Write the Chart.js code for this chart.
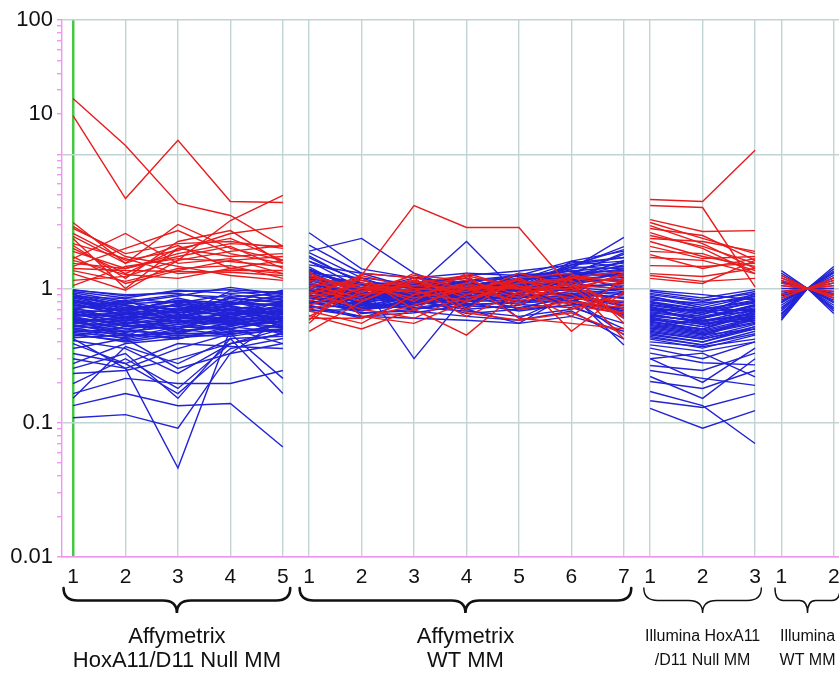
<!DOCTYPE html>
<html><head><meta charset="utf-8">
<script src="https://cdn.jsdelivr.net/npm/chart.js@4.4.0/dist/chart.umd.min.js"></script>
<style>html,body{margin:0;padding:0;background:#fff}#wrap{width:839px;height:676px;position:relative}</style>
</head><body><div id="wrap"><canvas id="c"></canvas></div>
<script>
// ---- categories / ticks ----
const tickLabels = ['1','2','3','4','5','1','2','3','4','5','6','7','1','2','3','1','2'];
const tickPositions = [0,1,2,3,4,4.5,5.5,6.5,7.5,8.5,9.5,10.5,11,12,13,13.5,14.5];
const groupNames = [['Affymetrix','HoxA11/D11 Null MM'],['Affymetrix','WT MM'],['Illumina HoxA11','/D11 Null MM'],['Illumina','WT MM']];
const groupX = [[0,1,2,3,4],[4.5,5.5,6.5,7.5,8.5,9.5,10.5],[11,12,13],[13.5,14,14.5]];
const yLabelValues = [0.01, 0.1, 1, 20, 100];
const yLabels = ['0.01','0.1','1','10','100'];

// ---- series values (fold change) ----
const affyNullRed = [
[26,11.6,4.3,3.5,2.06],[19.4,4.68,12.7,4.45,4.37],[1.15,1.23,1.62,3.21,4.93],[3.1,1.54,3.0,1.99,1.62],
[2.8,1.82,2.16,2.24,1.99],[2.57,1.62,1.92,2.57,2.9],[2.36,1.0,1.99,2.36,1.62],[2.09,1.19,2.24,2.7,1.54],
[1.89,1.41,1.73,2.06,1.41],[1.67,2.57,1.54,1.67,1.29],[1.41,1.36,1.34,1.32,1.25],[1.36,1.13,1.41,1.48,1.19],
[1.29,0.97,1.62,1.89,2.09],[1.05,1.46,1.67,1.59,1.46],[2.16,1.67,1.29,1.36,1.36],[1.99,1.29,1.99,1.73,1.82],
[2.9,1.73,1.46,1.25,1.15],[1.54,1.41,1.82,2.16,2.06],[1.73,1.09,1.36,1.62,1.73],[2.44,1.54,2.09,1.41,1.29],
[1.46,1.99,2.7,1.82,1.54],[1.62,1.27,1.19,1.41,1.62]];
const affyNullBlue = [
[0.109,0.115,0.091,0.33,0.6],[0.30,0.254,0.046,0.50,0.6],[0.134,0.165,0.134,0.139,0.066],[0.165,0.214,0.196,0.196,0.245],
[0.254,0.328,0.152,0.424,0.165],[0.196,0.30,0.18,0.389,0.46],[0.389,0.276,0.165,0.357,0.424],[0.357,0.424,0.254,0.328,0.389],
[0.233,0.245,0.30,0.389,0.50],[0.152,0.37,0.276,0.424,0.44],[0.424,0.254,0.357,0.46,0.214],[0.328,0.276,0.389,0.37,0.357],
[0.276,0.389,0.424,0.50,0.389],[0.41,0.357,0.233,0.389,0.46],
[0.95,0.85,0.97,0.92,0.95],[0.9,0.78,0.88,1.02,0.9],[0.85,0.7,0.8,0.75,0.85],[0.8,0.75,0.65,0.85,0.78],
[0.78,0.62,0.72,0.68,0.8],[0.75,0.68,0.6,0.72,0.7],[0.72,0.58,0.7,0.62,0.75],[0.7,0.65,0.55,0.66,0.68],
[0.68,0.55,0.62,0.58,0.62],[0.65,0.6,0.5,0.64,0.72],[0.62,0.52,0.58,0.55,0.6],[0.6,0.5,0.54,0.6,0.55],
[0.58,0.56,0.48,0.52,0.65],[0.56,0.48,0.52,0.5,0.58],[0.54,0.45,0.46,0.56,0.52],[0.52,0.5,0.44,0.48,0.5],
[0.5,0.42,0.5,0.45,0.55],[0.48,0.46,0.42,0.52,0.47],[0.46,0.4,0.45,0.44,0.5],[0.88,0.72,0.75,0.8,0.66],
[0.82,0.66,0.85,0.7,0.62],[0.74,0.8,0.68,0.78,0.88],[0.66,0.7,0.74,0.6,0.82],[0.62,0.64,0.66,0.7,0.58],
[0.57,0.6,0.62,0.74,0.64],[0.92,0.6,0.78,0.66,0.74],[0.7,0.82,0.58,0.88,0.6],[0.44,0.52,0.56,0.62,0.45],
[0.6,0.44,0.64,0.58,0.7],[0.97,0.9,0.92,0.8,0.97],[0.86,0.76,0.62,0.96,0.86],[0.52,0.58,0.7,0.54,0.62],
[0.93,0.8,0.9,0.86,0.92],[0.87,0.84,0.78,0.9,0.82],[0.83,0.68,0.82,0.78,0.74],[0.79,0.72,0.66,0.76,0.9],
[0.76,0.64,0.76,0.64,0.66],[0.73,0.7,0.62,0.7,0.78],[0.69,0.6,0.68,0.74,0.64],[0.67,0.62,0.57,0.62,0.7],
[0.64,0.57,0.64,0.66,0.6],[0.61,0.54,0.6,0.57,0.66],[0.59,0.58,0.52,0.6,0.56],[0.57,0.5,0.56,0.54,0.62],
[0.55,0.53,0.5,0.58,0.54],[0.53,0.47,0.54,0.5,0.6],[0.51,0.44,0.48,0.53,0.57],[0.49,0.48,0.46,0.47,0.53],
[0.47,0.43,0.52,0.49,0.48],[0.45,0.41,0.47,0.55,0.51],[0.43,0.45,0.43,0.46,0.49],[0.98,0.88,0.95,0.98,0.93],
[0.9,0.74,0.7,0.84,0.8],[0.71,0.77,0.8,0.68,0.72],[0.63,0.66,0.7,0.78,0.76],[0.55,0.62,0.6,0.64,0.68],
[0.5,0.55,0.58,0.56,0.64],[0.8,0.66,0.6,0.6,0.68],[0.66,0.52,0.5,0.7,0.52]];
const affyWTRed = [
[0.9,1.25,4.15,2.85,2.85,1.0,0.62],[0.48,0.8,1.2,1.0,1.05,0.9,0.62],[0.55,1.25,1.0,0.95,1.2,0.8,0.66],
[0.63,0.5,0.7,0.45,0.95,0.62,1.2],[1.3,0.9,1.1,1.25,0.7,0.8,0.72],[1.2,1.05,0.85,1.0,1.15,0.95,1.3],
[1.1,0.95,1.25,1.15,0.9,1.1,0.6],[1.25,1.0,0.95,0.8,1.1,1.2,1.05],[0.85,1.1,0.8,1.3,1.0,0.7,0.9],
[1.0,0.8,1.15,0.9,1.3,1.05,0.75],[0.9,1.2,0.7,1.1,0.85,1.25,1.1],[1.05,0.85,1.3,0.7,1.2,0.48,0.95],
[0.75,1.0,1.05,1.2,0.75,1.2,1.34],[1.05,1.15,0.9,1.05,1.0,0.85,0.8],[0.95,0.7,0.6,0.9,1.1,1.15,0.7],
[0.7,0.9,1.0,0.62,0.95,1.0,1.25],[1.15,1.0,1.15,0.85,1.05,0.75,0.65],[0.8,1.1,0.95,1.25,1.0,1.05,1.0],
[0.62,0.95,1.05,1.0,0.8,1.1,0.42],[0.6,0.6,0.75,1.0,1.0,1.2,1.15],[0.68,0.55,0.9,1.1,0.6,0.55,0.5],
[1.35,0.62,0.55,0.8,1.2,1.3,0.55],[0.58,1.3,1.2,0.66,0.58,0.66,0.46]];
const affyWTBlue = [
[2.6,1.4,1.2,1.1,0.9,1.3,1.8],[1.9,2.36,1.3,0.95,1.1,1.5,1.6],[1.7,1.1,0.3,0.9,1.2,1.4,2.4],
[1.5,1.3,1.0,2.24,0.9,1.6,1.9],[1.4,1.0,1.1,1.2,0.6,0.9,0.38],[1.3,1.2,0.9,1.0,1.3,1.2,1.5],
[1.25,0.85,1.15,0.8,1.1,1.45,1.4],[1.2,0.95,0.8,1.1,1.0,1.1,1.3],[1.15,0.9,1.0,0.85,1.2,1.35,1.2],
[1.1,0.75,0.85,1.05,0.95,1.0,1.1],[1.05,0.8,0.95,0.75,1.05,1.25,1.0],[1.0,0.7,0.75,0.95,0.85,0.95,0.9],
[0.95,0.78,0.9,0.9,0.8,0.85,0.8],[0.9,0.65,0.7,0.8,0.9,0.8,0.7],[0.85,0.72,0.8,0.7,0.75,1.05,0.6],
[0.8,0.68,0.85,0.65,0.7,0.75,0.5],[0.75,0.62,0.66,0.75,0.8,0.9,0.85],[0.72,0.75,0.72,0.68,0.62,0.7,0.95],
[1.35,1.05,1.05,1.25,1.35,1.5,1.7],[1.6,1.15,1.0,1.15,1.25,1.6,1.45],[1.45,0.9,0.95,1.0,1.15,1.3,1.25],
[0.88,0.85,1.1,0.82,0.98,1.15,1.15],[0.98,1.0,0.8,0.9,0.7,0.9,0.75],[1.12,0.82,0.88,1.15,0.85,1.2,1.35],
[0.78,0.88,0.78,0.85,0.92,0.8,1.05],[1.02,0.72,0.92,0.72,1.1,1.0,0.62],[0.68,0.7,0.74,0.9,0.76,0.72,0.55],
[1.22,1.02,0.86,0.96,1.0,1.4,1.55],[0.92,0.95,1.2,1.08,0.88,0.86,0.45],[1.08,0.92,0.98,0.88,1.28,1.1,0.98],
[0.82,0.66,0.68,0.62,0.58,0.68,0.42],[1.18,1.08,1.02,1.2,0.94,1.28,1.85],[0.86,0.8,0.7,0.78,0.68,0.76,0.72],
[1.38,0.98,1.08,1.02,1.2,1.18,1.62],[0.74,0.6,0.82,0.7,0.55,0.92,0.66],
[1.28,1.1,0.95,1.05,1.08,1.22,1.3],[1.18,0.88,0.92,0.98,1.12,1.12,1.18],[1.06,0.96,1.04,1.1,0.96,1.06,1.06],
[0.96,0.86,0.86,0.92,1.02,0.98,0.92],[0.9,0.8,0.98,0.86,0.9,0.92,0.86],[0.84,0.76,0.76,0.84,0.86,0.88,0.78],
[0.78,0.7,0.82,0.76,0.78,0.82,0.68],[1.6,1.0,0.9,1.06,1.16,1.55,1.7],[1.75,1.08,1.12,0.94,1.06,1.45,2.05],
[1.32,0.92,1.0,1.12,1.24,1.25,1.4],[1.14,1.0,0.84,0.8,0.92,1.08,1.22],[1.0,0.84,0.94,0.86,0.84,1.02,0.95],
[0.94,0.74,0.78,0.96,1.0,0.96,0.84],[0.86,0.7,0.88,0.74,0.72,0.86,0.74],[0.8,0.78,0.72,0.8,0.82,0.78,0.64],
[1.24,0.96,1.06,0.9,1.04,1.16,1.28],[1.1,0.86,0.8,1.0,0.96,1.2,1.12],[1.04,0.9,0.9,0.84,1.14,1.3,1.36],
[0.97,0.8,0.84,0.94,0.9,0.9,1.0],[1.85,1.2,1.08,1.08,1.0,1.5,1.95],[1.2,1.06,0.96,1.14,1.18,1.24,1.58],
[2.1,1.3,1.2,1.3,1.25,1.35,1.45],[0.7,0.62,0.6,0.58,0.55,0.62,0.48]];
const illNullRed = [
[4.6,4.45,10.7],[4.15,4.01,1.03],[3.26,2.66,2.7],[3.1,2.36,1.82],[2.94,2.16,1.41],[2.8,2.48,1.62],
[2.48,2.06,1.54],[2.36,2.24,1.89],[2.24,1.73,1.46],[2.06,1.67,1.73],[1.89,1.82,1.36],[1.79,1.41,1.67],
[1.7,1.62,1.29],[1.48,1.46,1.54],[1.29,1.23,1.41],[1.25,1.13,1.19],[1.19,1.09,1.62],[2.61,1.99,1.29]];
const illNullBlue = [
[0.128,0.091,0.123],[0.171,0.134,0.070],[0.146,0.13,0.165],[0.203,0.18,0.245],[0.221,0.152,0.30],
[0.245,0.214,0.19],[0.267,0.245,0.33],[0.30,0.2,0.36],[0.33,0.28,0.27],[0.36,0.30,0.40],[0.3,0.33,0.22],
[0.95,0.85,0.98],[0.9,0.8,0.95],[0.86,0.75,0.9],[0.82,0.78,0.85],[0.78,0.7,0.8],[0.75,0.66,0.88],
[0.72,0.62,0.75],[0.7,0.68,0.7],[0.66,0.6,0.72],[0.64,0.56,0.66],[0.62,0.58,0.62],[0.6,0.52,0.7],
[0.58,0.55,0.6],[0.56,0.5,0.64],[0.54,0.48,0.58],[0.52,0.46,0.55],[0.5,0.44,0.6],[0.48,0.42,0.52],
[0.46,0.4,0.5],[0.44,0.38,0.48],[0.42,0.36,0.45],[0.4,0.37,0.42],[0.88,0.72,0.68],[0.8,0.64,0.92],
[0.68,0.7,0.56],[0.74,0.54,0.62],[0.5,0.6,0.76],[0.38,0.34,0.4],[0.62,0.45,0.5],[0.97,0.9,0.82],
[0.92,0.82,0.92],[0.84,0.72,0.88],[0.8,0.7,0.82],[0.76,0.68,0.78],[0.73,0.64,0.8],[0.69,0.6,0.74],
[0.67,0.62,0.68],[0.63,0.57,0.7],[0.61,0.54,0.66],[0.59,0.52,0.62],[0.57,0.5,0.68],[0.55,0.49,0.6],
[0.53,0.47,0.56],[0.51,0.45,0.62],[0.49,0.43,0.54],[0.47,0.42,0.5],[0.45,0.4,0.52],[0.43,0.38,0.46],
[0.65,0.55,0.58],[0.71,0.58,0.64]];
const illWTRed = [
[1.25,1,0.85],[1.15,1,1.2],[1.05,1,0.9],[0.95,1,1.1],[0.9,1,1.15],[0.85,1,0.95],[1.1,1,1.05],[1.2,1,0.88]];
const illWTBlue = [
[1.36,1,0.75],[1.25,1,1.46],[1.15,1,1.3],[1.05,1,0.85],[0.95,1,1.2],[0.9,1,1.1],[0.85,1,0.7],
[0.8,1,0.9],[0.75,1,1.35],[0.7,1,0.65],[0.65,1,1.25],[0.6,1,0.8],[0.58,1,1.0],[1.3,1,0.95],
[0.72,1,1.15],[0.62,1,0.68],[0.88,1,1.4],[1.1,1,0.78],
[1.2,1,1.05],[1.0,1,0.72],[0.68,1,1.2],[0.78,1,0.82],[0.92,1,1.32],[1.12,1,0.92],[0.82,1,1.0],[0.64,1,0.9]];

// ---- styles ----
const RED = 'rgb(232,28,30)', BLUE = 'rgb(34,34,214)';
const GRID = 'rgb(192,212,212)', PINK = 'rgb(240,150,240)', GREEN = 'rgb(70,200,70)';
const FONT = "'Liberation Sans', Arial, sans-serif";

function makeSets(rows, gi, color) {
  return rows.map(r => ({
    data: r.map((v, i) => ({x: groupX[gi][i], y: v})),
    borderColor: color, borderWidth: 1.4, pointRadius: 0, fill: false, tension: 0
  }));
}
const datasets = [].concat(
  makeSets(affyNullRed, 0, RED), makeSets(affyWTRed, 1, RED), makeSets(illNullRed, 2, RED), makeSets(illWTRed, 3, RED),
  makeSets(affyNullBlue, 0, BLUE), makeSets(affyWTBlue, 1, BLUE), makeSets(illNullBlue, 2, BLUE), makeSets(illWTBlue, 3, BLUE)
);

const yTickValues = [];
[0.01, 0.1, 1, 10].forEach(d => { for (let m = 1; m <= 9; m++) yTickValues.push(+(m * d).toPrecision(3)); });
yTickValues.push(100);
const isDecade = v => [0.01, 0.1, 1, 10, 100].some(d => Math.abs(v - d) / d < 1e-6);

function drawBrace(ctx, x1, x2, y0, h, lw) {
  const xm = (x1 + x2) / 2, ym = y0 + h * 0.5, r = Math.min(14, (x2 - x1) / 8);
  ctx.save();
  ctx.lineWidth = lw; ctx.strokeStyle = '#111'; ctx.lineCap = 'round';
  ctx.beginPath();
  ctx.moveTo(x1, y0);
  ctx.quadraticCurveTo(x1, ym, x1 + r, ym);
  ctx.lineTo(xm - r, ym);
  ctx.quadraticCurveTo(xm, ym, xm, y0 + h);
  ctx.quadraticCurveTo(xm, ym, xm + r, ym);
  ctx.lineTo(x2 - r, ym);
  ctx.quadraticCurveTo(x2, ym, x2, y0);
  ctx.stroke();
  ctx.restore();
}

const bracePlugin = {
  id: 'braces',
  afterDraw(chart) {
    const ctx = chart.ctx, xs = chart.scales.x;
    groupX.forEach((g, gi) => {
      const first = g[0], last = g[g.length - 1];
      const big = gi < 2;
      const x1 = xs.getPixelForValue(first - (big ? 0.18 : 0.12));
      const x2 = xs.getPixelForValue(last + (big ? 0.14 : 0.12));
      drawBrace(ctx, x1, x2, 588, 25, big ? 2.6 : 1.4);
      const xc = (x1 + x2) / 2;
      ctx.save();
      ctx.fillStyle = '#111'; ctx.textAlign = 'center'; ctx.textBaseline = 'middle';
      ctx.font = (big ? '22px ' : '16px ') + FONT;
      ctx.fillText(groupNames[gi][0], xc, 637);
      ctx.fillText(groupNames[gi][1], xc, 661);
      ctx.restore();
    });
  }
};

new Chart(document.getElementById('c'), {
  type: 'line',
  data: { datasets },
  plugins: [bracePlugin],
  options: {
    responsive: true, maintainAspectRatio: false, animation: false,
    layout: { padding: { top: 20, left: 0, right: 0, bottom: 0 } },
    plugins: { legend: { display: false }, tooltip: { enabled: false } },
    scales: {
      x: {
        type: 'linear', min: -0.21, max: 14.6,
        afterFit(s) { s.height = 119; s.paddingLeft = 0; s.paddingRight = 0; },
        afterBuildTicks(s) { s.ticks = tickPositions.map(v => ({value: v})); },
        ticks: { autoSkip: false, maxRotation: 0, padding: 8, color: '#111',
          font: { family: FONT, size: 21 }, callback: (v, i) => tickLabels[i] },
        grid: { color: c => c.index === 0 ? GREEN : GRID, lineWidth: c => c.index === 0 ? 2.5 : 1.4, drawTicks: false },
        border: { color: PINK, width: 1.4 }
      },
      y: {
        type: 'logarithmic', min: 0.01, max: 100,
        afterFit(s) { s.width = 62; s.paddingTop = 0; s.paddingBottom = 0; },
        afterBuildTicks(s) { s.ticks = yTickValues.map(v => ({value: v})); },
        ticks: { autoSkip: false, padding: 4, color: '#111', font: { family: FONT, size: 22 },
          callback: v => { const i = yLabelValues.findIndex(t => Math.abs(t - v) / t < 1e-6); return i >= 0 ? yLabels[i] : ''; } },
        grid: { color: c => (c.tick && isDecade(c.tick.value)) ? GRID : 'rgba(0,0,0,0)', lineWidth: 1.4,
          tickColor: PINK, tickLength: 5 },
        border: { color: PINK, width: 1.4 }
      }
    }
  }
});
</script></body></html>
